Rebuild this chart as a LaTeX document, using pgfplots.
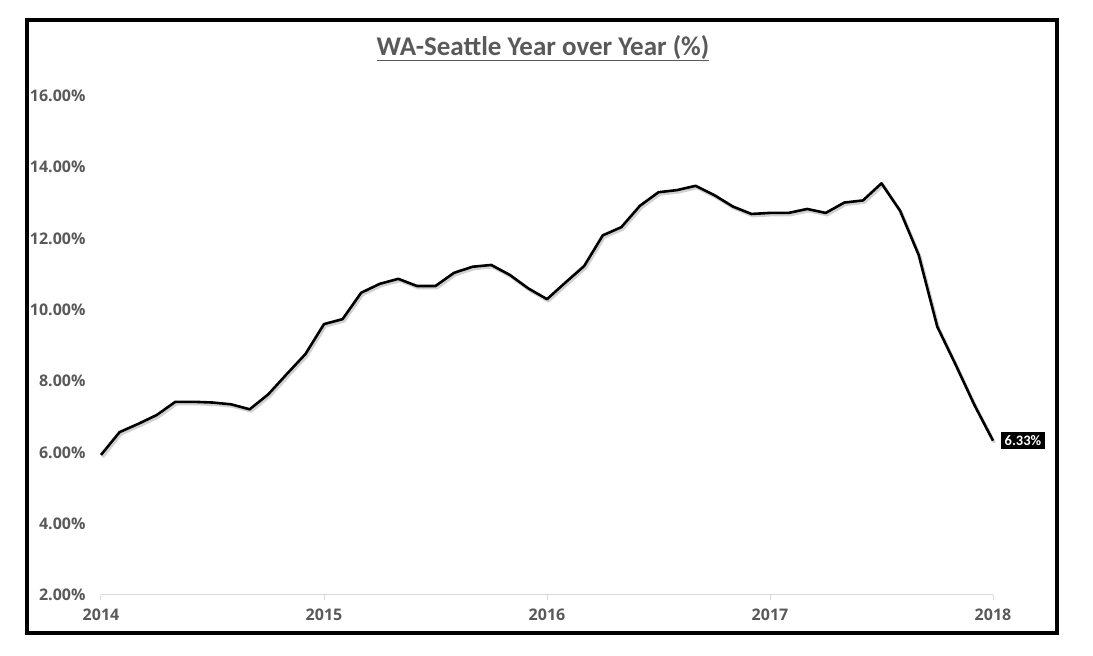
\documentclass[border=0pt]{standalone}
\usepackage{pgfplots}
\pgfplotsset{compat=1.18}
\usepackage{pgfplotstable}
\usepackage{fontspec}
\setmainfont{Open Sans}
\newfontfamily\titlefont{Carlito}
\newfontfamily\labelfont{Carlito}

\definecolor{txtgrey}{RGB}{89,89,89}
\definecolor{axgrey}{RGB}{217,217,217}

% monthly YoY change, Jan 2014 - Jan 2018
\pgfplotstableread{
x yoy
2014.0000 5.93
2014.0833 6.57
2014.1667 6.80
2014.2500 7.05
2014.3333 7.42
2014.4167 7.42
2014.5000 7.40
2014.5833 7.35
2014.6667 7.21
2014.7500 7.63
2014.8333 8.20
2014.9167 8.76
2015.0000 9.60
2015.0833 9.74
2015.1667 10.48
2015.2500 10.73
2015.3333 10.87
2015.4167 10.67
2015.5000 10.67
2015.5833 11.04
2015.6667 11.21
2015.7500 11.26
2015.8333 10.98
2015.9167 10.60
2016.0000 10.30
2016.0833 10.77
2016.1667 11.23
2016.2500 12.09
2016.3333 12.32
2016.4167 12.92
2016.5000 13.30
2016.5833 13.36
2016.6667 13.48
2016.7500 13.22
2016.8333 12.90
2016.9167 12.69
2017.0000 12.72
2017.0833 12.72
2017.1667 12.83
2017.2500 12.72
2017.3333 13.01
2017.4167 13.07
2017.5000 13.55
2017.5833 12.78
2017.6667 11.54
2017.7500 9.53
2017.8333 8.45
2017.9167 7.33
2018.0000 6.33
}\seattle

\begin{document}
\begin{tikzpicture}
\begin{axis}[
    scale only axis,
    width=892pt, height=499pt,
    xmin=2014, xmax=2018,
    ymin=2, ymax=16,
    clip=false,
    axis x line=bottom, axis y line=left,
    axis line style={-},
    x axis line style={draw=axgrey, line width=1pt},
    y axis line style={draw=none},
    xtick={2014,2015,2016,2017,2018},
    xticklabels={2014,2015,2016,2017,2018},
    ytick={2,4,...,16},
    tick align=outside,
    xtick style={draw=axgrey, line width=1pt},
    ytick style={draw=none},
    major tick length=5pt,
    /pgf/number format/assume math mode=true,
    yticklabel={\pgfmathprintnumber[fixed,fixed zerofill,precision=2]{\tick}\%},
    ticklabel style={font=\fontsize{16}{19}\selectfont\bfseries, text=txtgrey},
    yticklabel style={xshift=-7pt},
    xticklabel style={yshift=-5pt},
    title={\underline{WA-Seattle Year over Year (\%)}},
    title style={font=\titlefont\fontsize{27}{32}\selectfont\bfseries, text=txtgrey,
        at={(axis description cs:0.4955,1.084)}, anchor=center},
]
\addplot[draw=black, opacity=0.18, line width=3pt, line join=round,
    transform canvas={xshift=1.5pt, yshift=-2pt}] table[x=x, y=yoy] {\seattle};
\addplot[draw=black, line width=2.6pt, line join=round] table[x=x, y=yoy] {\seattle};
\addplot[draw=none, mark=none, point meta=explicit symbolic,
    nodes near coords,
    nodes near coords style={anchor=west, xshift=8pt, fill=black, text=white,
        font=\labelfont\fontsize{14.5}{17}\selectfont\bfseries, inner sep=3.5pt}]
    coordinates {(2018,6.33) [6.33\%]};
\end{axis}
\draw[line width=4pt] (-74pt,-38pt) rectangle (956pt,575pt);
\pgfresetboundingbox
\path[use as bounding box] (-101pt,-61pt) rectangle (992pt,595pt);
\end{tikzpicture}
\end{document}
